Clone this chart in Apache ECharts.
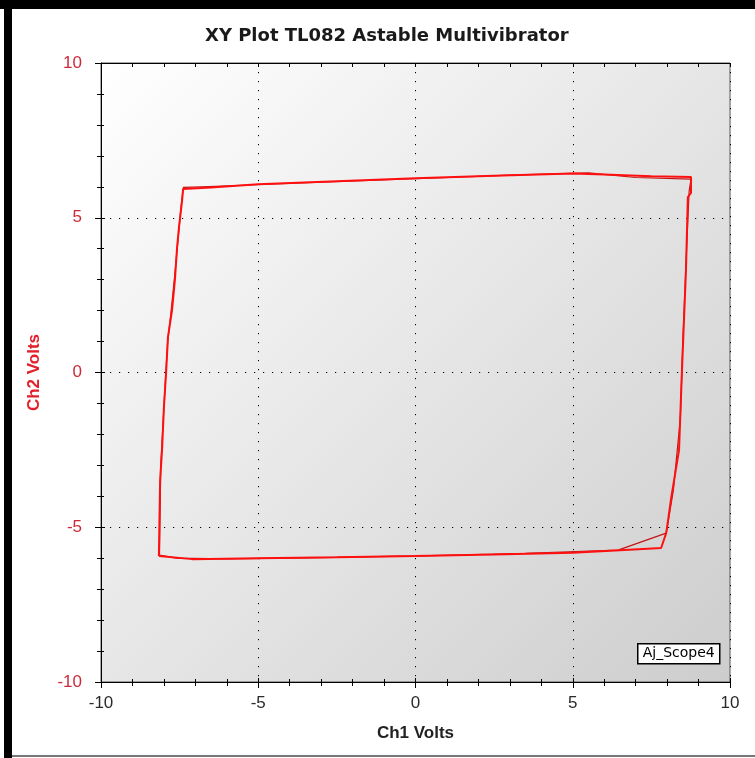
<!DOCTYPE html>
<html>
<head>
<meta charset="utf-8">
<script src="https://cdn.jsdelivr.net/npm/echarts@6/dist/echarts.min.js"></script>
<style>
  html, body { margin: 0; padding: 0; background: #ffffff; }
  #wrap { position: relative; width: 755px; height: 758px; overflow: hidden; }
  #chart { position: absolute; left: 0; top: 0; width: 755px; height: 758px; }
  .band { position: absolute; pointer-events: none; }
</style>
</head>
<body>
<div id="wrap">
  <div id="chart"></div>
  <div class="band" style="left:0;top:0;width:755px;height:9px;background:#000;"></div>
  <div class="band" style="left:4px;top:0;width:8px;height:758px;background:#000;"></div>
  <div class="band" style="left:12px;top:755px;width:743px;height:2px;background:#777;"></div>
</div>
<script>
// ---- data ----
const chartTitle = 'XY Plot TL082 Astable Multivibrator';
const xName = 'Ch1 Volts';
const yName = 'Ch2 Volts';
const seriesName = 'Aj_Scope4';
const axisMin = -10;
const axisMax = 10;
const axisStep = 5;

// main trace: [Ch1, Ch2]
const traceMain = [
  [-8.16, -5.93], [-8.12, -3.47], [-8.06, -2.52], [-8.00, -1.13], [-7.93, 0.00],
  [-7.87, 1.15], [-7.74, 2.02], [-7.65, 2.99], [-7.58, 4.05], [-7.52, 4.70],
  [-7.42, 5.57], [-7.39, 5.93], [-6.5, 5.98], [-5.0, 6.08], [-2.5, 6.18],
  [0.0, 6.28], [2.5, 6.36], [5.0, 6.43], [6.0, 6.40], [7.5, 6.34],
  [8.76, 6.32], [8.76, 5.80], [8.66, 5.67], [8.60, 3.31], [8.47, 0.00],
  [8.38, -2.50], [8.12, -4.12], [8.00, -5.00], [7.97, -5.19], [7.81, -5.67],
  [6.50, -5.74], [5.0, -5.82], [2.5, -5.88], [0.0, -5.93], [-2.5, -5.97],
  [-5.0, -6.00], [-7.1, -6.03], [-8.16, -5.93]
];

// second pass of the loop (slightly different path)
const traceSecond = [
  [-8.14, -5.90], [-8.10, -3.00], [-8.02, -1.50], [-7.95, -0.20], [-7.88, 1.00],
  [-7.78, 1.90], [-7.66, 3.10], [-7.55, 4.30], [-7.45, 5.40], [-7.38, 5.98],
  [-6.8, 6.00], [-5.5, 6.05], [-3.0, 6.15], [0.0, 6.26], [3.0, 6.38],
  [5.5, 6.45], [7.0, 6.30], [8.76, 6.25], [8.70, 5.85], [8.62, 4.00],
  [8.50, 1.00], [8.42, -1.50], [8.20, -3.80], [8.02, -4.90], [7.97, -5.19],
  [6.44, -5.74], [3.5, -5.84], [0.5, -5.92], [-3.0, -5.98], [-6.0, -6.02],
  [-7.6, -6.00], [-8.14, -5.90]
];

// ---- chart ----
const chart = echarts.init(document.getElementById('chart'));

const labelFont = 'Liberation Sans, Arial, sans-serif';

function mkAxis(extra) {
  return Object.assign({
    type: 'value', min: axisMin, max: axisMax, interval: axisStep,
    axisLine: { show: true, onZero: false, lineStyle: { color: '#000', width: 1 } },
    axisTick: { show: true, length: 6, lineStyle: { color: '#000', width: 1 } },
    minorTick: { show: true, splitNumber: 5, length: 4, lineStyle: { color: '#000', width: 1 } },
    splitLine: { show: false },
    axisLabel: { show: false }
  }, extra);
}
const hiddenLine = { show: false, onZero: false };
const innerTick = { show: true, inside: true, length: 4, lineStyle: { color: '#000', width: 1 } };
const innerMinor = { show: true, splitNumber: 5, length: 3, lineStyle: { color: '#000', width: 1 } };

const option = {
  animation: false,
  backgroundColor: '#ffffff',
  title: {
    text: chartTitle,
    left: 205, top: 27, padding: 0,
    textStyle: { fontFamily: 'DejaVu Sans', fontSize: 18, fontWeight: 'bold', color: '#1a1a1a' }
  },
  grid: {
    left: 101, right: 25, top: 63, bottom: 76,
    show: true,
    borderColor: '#555',
    borderWidth: 1,
    backgroundColor: new echarts.graphic.LinearGradient(0, 0, 1, 1, [
      { offset: 0, color: '#ffffff' },
      { offset: 1, color: '#cdcdcd' }
    ])
  },
  xAxis: [
    mkAxis({
      position: 'bottom',
      axisLabel: { show: true, fontFamily: labelFont, fontSize: 17, color: '#2a2a2a', margin: 13 },
      splitLine: { show: true, lineStyle: { color: '#000', width: 1, type: [1.2, 7.8] } },
      name: xName, nameLocation: 'middle', nameGap: 43,
      nameTextStyle: { fontFamily: labelFont, fontSize: 17, fontWeight: 'bold', color: '#222' }
    }),
    mkAxis({
      position: 'top',
      axisTick: { show: true, inside: true, length: 4, lineStyle: { color: '#000', width: 1 } },
      minorTick: { show: true, splitNumber: 5, length: 4, lineStyle: { color: '#000', width: 1 } }
    }),
    mkAxis({
      position: 'bottom',
      axisLine: hiddenLine,
      axisTick: innerTick,
      minorTick: innerMinor
    })
  ],
  yAxis: [
    mkAxis({
      position: 'left',
      axisLabel: { show: true, fontFamily: labelFont, fontSize: 17, color: '#cc2a38', margin: 19 },
      splitLine: { show: true, lineStyle: { color: '#000', width: 1, type: [1.2, 7.8] } },
      name: yName, nameLocation: 'middle', nameGap: 58,
      nameTextStyle: { fontFamily: labelFont, fontSize: 17, fontWeight: 'bold', color: '#e3202a' }
    }),
    mkAxis({
      position: 'left',
      axisLine: hiddenLine,
      axisTick: innerTick,
      minorTick: innerMinor
    })
  ],
  series: [
    {
      name: seriesName, type: 'line', xAxisIndex: 0, yAxisIndex: 0,
      data: traceSecond, showSymbol: false, symbol: 'none', smooth: false,
      lineStyle: { color: '#c41414', width: 1.2 }, z: 3
    },
    {
      name: seriesName, type: 'line', xAxisIndex: 0, yAxisIndex: 0,
      data: traceMain, showSymbol: false, symbol: 'none', smooth: false,
      lineStyle: { color: '#ff1010', width: 2 }, z: 4
    }
  ],
  graphic: [
    {
      type: 'group', left: 637, top: 643, z: 100,
      children: [
        { type: 'rect', shape: { x: 0, y: 0, width: 82, height: 20 },
          style: { fill: '#ffffff', stroke: '#000000', lineWidth: 1.5 } },
        { type: 'text', x: 41, y: 10,
          style: { text: seriesName, fontFamily: 'DejaVu Sans', fontSize: 14, fill: '#000',
                   align: 'center', verticalAlign: 'middle' } }
      ]
    }
  ]
};
chart.setOption(option);
</script>
</body>
</html>
